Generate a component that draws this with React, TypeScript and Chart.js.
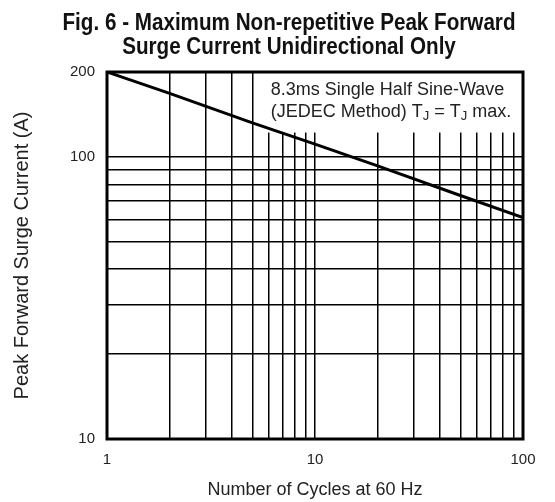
import { useEffect, useRef } from "react";
import { Chart, registerables } from "chart.js";

Chart.register(...registerables);

// ---- data ----
const cycles = [1, 2, 5, 10, 20, 50, 100];
const surgeCurrent = [200, 168, 132, 111, 93, 73, 61];
const xGridTicks = [1, 2, 3, 4, 5, 6, 7, 8, 9, 10, 20, 30, 40, 50, 60, 70, 80, 90, 100];
const yGridTicks = [10, 20, 30, 40, 50, 60, 70, 80, 90, 100, 200];
const xLabelTicks = [1, 10, 100];
const yLabelTicks = [10, 100, 200];
const titleLines = ["Fig. 6 - Maximum Non-repetitive Peak Forward", "Surge Current Unidirectional Only"];
const xTitle = "Number of Cycles at 60 Hz";
const yTitle = "Peak Forward Surge Current (A)";
const noteLine1 = "8.3ms Single Half Sine-Wave";
const noteLine2: [string, boolean][] = [
  ["(JEDEC Method) T", false],
  ["J", true],
  [" = T", false],
  ["J", true],
  [" max.", false],
];
const noteBoxX = 5.55;
const noteBoxY = 122;

const SANS = '"Liberation Sans", Arial, Helvetica, sans-serif';

const overlayPlugin = {
  id: "overlay",
  beforeDatasetsDraw(chart: any) {
    const { ctx, chartArea, scales } = chart;
    const x = scales.x;
    const y = scales.y;
    const left = x.getPixelForValue(noteBoxX);
    const bottom = y.getPixelForValue(noteBoxY);
    ctx.save();
    ctx.fillStyle = "#ffffff";
    ctx.fillRect(left, chartArea.top + 1, chartArea.right - left - 1, bottom - chartArea.top - 1);
    ctx.fillStyle = "#222222";
    ctx.textBaseline = "alphabetic";
    ctx.textAlign = "left";
    const tx = left + 9;
    ctx.font = `18px ${SANS}`;
    ctx.fillText(noteLine1, tx, chartArea.top + 23);
    let cx = tx;
    const by = chartArea.top + 45;
    for (const [txt, sub] of noteLine2) {
      ctx.font = sub ? `13px ${SANS}` : `18px ${SANS}`;
      ctx.fillText(txt, cx, sub ? by + 3 : by);
      cx += ctx.measureText(txt).width;
    }
    ctx.restore();
  },
  afterDatasetsDraw(chart: any) {
    const { ctx, chartArea } = chart;
    ctx.save();
    ctx.strokeStyle = "#000";
    ctx.lineWidth = 3;
    ctx.strokeRect(chartArea.left, chartArea.top, chartArea.right - chartArea.left, chartArea.bottom - chartArea.top);
    ctx.restore();
  },
  afterDraw(chart: any) {
    const { ctx } = chart;
    ctx.save();
    ctx.fillStyle = "#111";
    ctx.textAlign = "center";
    ctx.textBaseline = "alphabetic";
    ctx.font = `bold 23px ${SANS}`;
    const w = ctx.measureText(titleLines[0]).width;
    const sx = 453 / w;
    ctx.translate(289, 0);
    ctx.scale(sx, 1);
    ctx.fillText(titleLines[0], 0, 30);
    ctx.fillText(titleLines[1], 0, 54);
    ctx.restore();
  },
};

export default function App() {
  const canvasRef = useRef<HTMLCanvasElement | null>(null);

  useEffect(() => {
    const canvas = canvasRef.current;
    if (!canvas) return;
    const chart = new Chart(canvas, {
      type: "line",
      data: {
        datasets: [
          {
            data: cycles.map((c, i) => ({ x: c, y: surgeCurrent[i] })),
            borderColor: "#000",
            borderWidth: 3,
            pointRadius: 0,
            tension: 0,
            fill: false,
          },
        ],
      },
      options: {
        animation: false,
        responsive: true,
        maintainAspectRatio: false,
        layout: { padding: { top: 72, right: 32, left: 0, bottom: 0 } },
        plugins: { legend: { display: false }, tooltip: { enabled: false }, title: { display: false } },
        scales: {
          x: {
            type: "logarithmic",
            min: 1,
            max: 100,
            afterBuildTicks: (scale: any) => {
              scale.ticks = xGridTicks.map((v) => ({ value: v }));
            },
            afterFit: (scale: any) => {
              scale.height = 63;
            },
            grid: { color: "#000", lineWidth: 1.5, drawTicks: false },
            border: { display: false },
            ticks: {
              autoSkip: false,
              maxRotation: 0,
              padding: 12,
              color: "#222",
              font: { family: SANS, size: 15 },
              callback: (v: any) => (xLabelTicks.includes(Number(v)) ? String(v) : ""),
            },
            title: {
              display: true,
              text: xTitle,
              color: "#222",
              font: { family: SANS, size: 18 },
              padding: { top: 0, bottom: 1 },
            },
          },
          y: {
            type: "logarithmic",
            min: 10,
            max: 200,
            afterBuildTicks: (scale: any) => {
              scale.ticks = yGridTicks.map((v) => ({ value: v }));
            },
            afterFit: (scale: any) => {
              scale.width = 107;
            },
            grid: { color: "#000", lineWidth: 1.5, drawTicks: false },
            border: { display: false },
            ticks: {
              autoSkip: false,
              padding: 12,
              color: "#222",
              font: { family: SANS, size: 15 },
              callback: (v: any) => (yLabelTicks.includes(Number(v)) ? String(v) : ""),
            },
            title: {
              display: true,
              text: yTitle,
              color: "#222",
              font: { family: SANS, size: 20 },
              padding: { top: 10, bottom: 0 },
            },
          },
        },
      },
      plugins: [overlayPlugin],
    });
    return () => chart.destroy();
  }, []);

  return (
    <div style={{ position: "fixed", left: 0, top: 0, width: 555, height: 502, background: "#fff" }}>
      <canvas ref={canvasRef} />
    </div>
  );
}
